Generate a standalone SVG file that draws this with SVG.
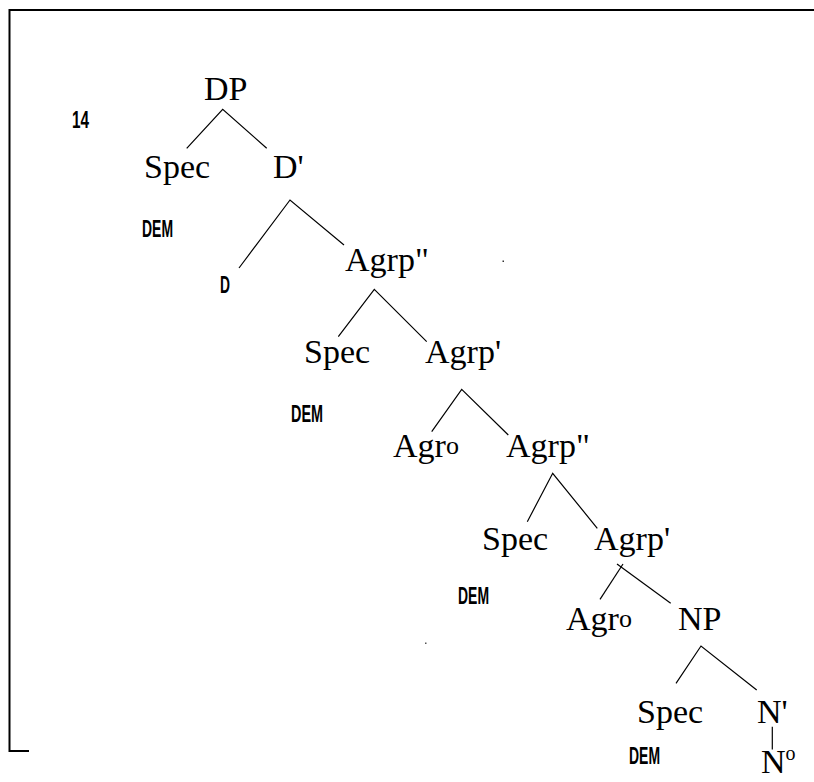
<svg xmlns="http://www.w3.org/2000/svg" width="814" height="782" viewBox="0 0 814 782">
  <style>
    .lbl { font-family: "Liberation Serif", "Times New Roman", serif; font-size: 34px; fill: #000; }
    .sup { font-size: 26px; }
    .tag { font-family: "Liberation Sans", Arial, sans-serif; font-weight: bold; font-size: 24px; fill: #000; }
    .edge { stroke: #000; stroke-width: 1.2; fill: none; }
    .frame { stroke: #000; stroke-width: 2; fill: none; }
  </style>
  <rect width="814" height="782" fill="#fff"/>

  <!-- open frame around the tree -->
  <path class="frame" d="M814,10 H9.5 V751 H29"/>

  <!-- example number -->
  <text id="ex-number" class="tag" x="72" y="128" textLength="17" lengthAdjust="spacingAndGlyphs">14</text>

  <!-- branches -->
  <g id="connectors">
    <path class="edge" d="M186.7,148.3 L222.7,109.3 L266.7,148.3"/>
    <path class="edge" d="M239,268 L290,200 L344,245"/>
    <path class="edge" d="M338.3,336.7 L374.3,289.3 L426.7,341.7"/>
    <path class="edge" d="M431.7,431.7 L461.7,389.3 L508.3,435"/>
    <path class="edge" d="M527.3,521.7 L552.7,473.3 L597.3,528.3"/>
    <path class="edge" d="M600,599.3 L623,564"/>
    <path class="edge" d="M617,564 L670.7,603.3"/>
    <path class="edge" d="M676,683.3 L701,646 L756.7,690"/>
    <path class="edge" d="M772.3,726.7 V749.5"/>
  </g>

  <g id="dp"><text class="lbl" x="204" y="100">DP</text></g>
  <g id="spec-1"><text class="lbl" x="144" y="178">Spec</text>
    <text class="tag" x="142" y="237" textLength="31" lengthAdjust="spacingAndGlyphs">DEM</text></g>
  <g id="d-bar"><text class="lbl" x="273" y="178">D'</text></g>
  <g id="d-head"><text class="tag" x="220" y="293" textLength="10" lengthAdjust="spacingAndGlyphs">D</text></g>
  <g id="agrp-max-1"><text class="lbl" x="345" y="271">Agrp"</text></g>

  <g id="spec-2"><text class="lbl" x="304" y="363">Spec</text>
    <text class="tag" x="291" y="422" textLength="32" lengthAdjust="spacingAndGlyphs">DEM</text></g>
  <g id="agrp-bar-1"><text class="lbl" x="425" y="363">Agrp'</text></g>
  <g id="agr-head-1"><text class="lbl" x="393" y="457">Agr<tspan class="sup" dy="-3">o</tspan></text></g>
  <g id="agrp-max-2"><text class="lbl" x="506" y="457">Agrp"</text></g>

  <g id="spec-3"><text class="lbl" x="482" y="550">Spec</text>
    <text class="tag" x="458" y="604" textLength="31" lengthAdjust="spacingAndGlyphs">DEM</text></g>
  <g id="agrp-bar-2"><text class="lbl" x="594" y="550">Agrp'</text></g>
  <g id="agr-head-2"><text class="lbl" x="566" y="630">Agr<tspan class="sup" dy="-3">o</tspan></text></g>
  <g id="np"><text class="lbl" x="678" y="630">NP</text></g>

  <g id="spec-4"><text class="lbl" x="637" y="723">Spec</text>
    <text class="tag" x="629" y="764" textLength="31" lengthAdjust="spacingAndGlyphs">DEM</text></g>
  <g id="n-bar"><text class="lbl" x="757" y="723">N'</text></g>
  <g id="n-head"><text class="lbl" font-size="30" x="761" y="773">N<tspan font-size="20" dy="-13">o</tspan></text></g>

  <!-- stray specks -->
  <rect x="502.5" y="260.5" width="1.5" height="1.5" fill="#333"/>
  <rect x="425" y="642.5" width="1.5" height="1.5" fill="#555"/>
</svg>
